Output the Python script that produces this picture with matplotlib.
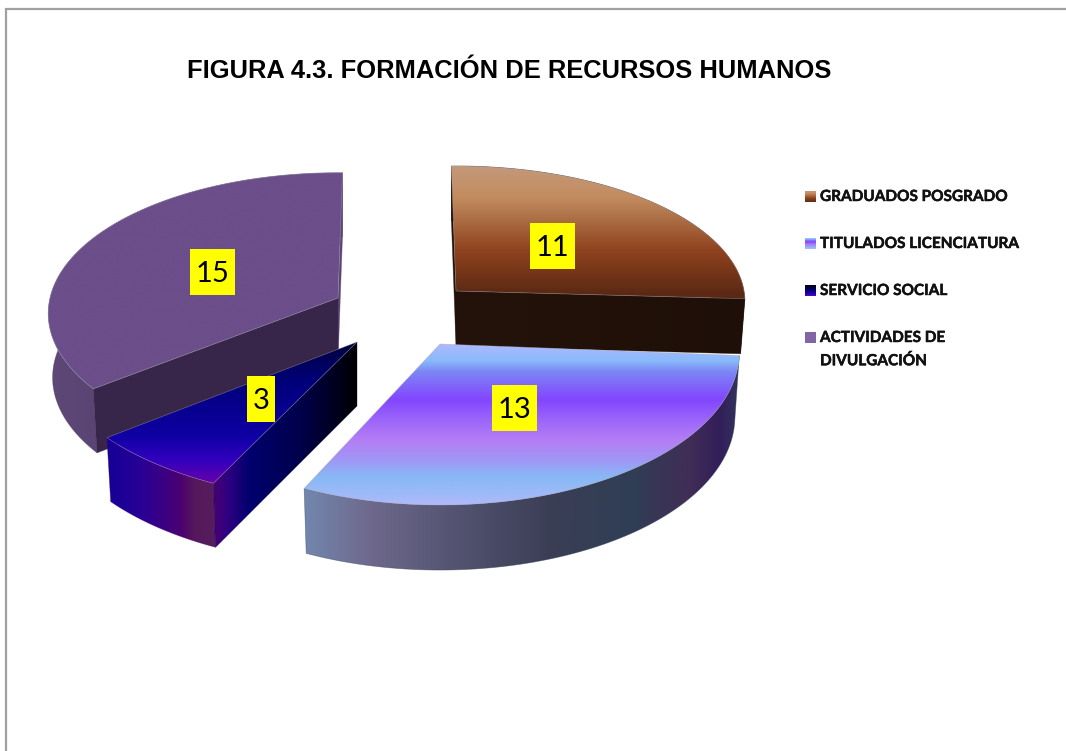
import numpy as np
import matplotlib
matplotlib.use("Agg")
import matplotlib.pyplot as plt
import matplotlib.patheffects as pe
from matplotlib.patches import Polygon, Rectangle

# ---- data ----
categories = ["GRADUADOS POSGRADO", "TITULADOS LICENCIATURA", "SERVICIO SOCIAL", "ACTIVIDADES DE\nDIVULGACIÓN"]
values = [11, 13, 3, 15]
title = "FIGURA 4.3. FORMACIÓN DE RECURSOS HUMANOS"

# ---- layout of the exploded 3-D pie (pixels of the figure) ----
apex_x = [456, 440, 357, 338]
apex_y = [291, 344, 342, 298]
rad_x = [288, 299, 313, 288]
rad_y = [135, 153, 159, 139]
persp = [0.08, 0.05, 0.0, 0.11]
turn = [-1, 0, 1.6, 1]
depth = [55, 65, 64, 64]
shrink = 0.985
label_x = [552.5, 514.5, 261, 212.5]
label_y = [246, 408, 399, 272]
label_w = [45, 45, 28, 45]
label_h = 46
legend_y = [196.5, 243.5, 290.5, 337.5]
legend_line = 23

# ---- colours: (pixel position, rgb) ----
top_stops = [
    [(167, (196, 152, 122)), (197, (195, 140, 95)), (215, (176, 116, 74)), (250, (143, 66, 31)),
     (265, (126, 58, 26)), (295, (90, 40, 20))],
    [(344, (176, 186, 255)), (362, (135, 185, 250)), (372, (125, 135, 245)), (400, (130, 70, 255)),
     (420, (155, 100, 250)), (440, (180, 125, 245)), (460, (160, 150, 245)), (478, (135, 185, 245)),
     (505, (175, 185, 250))],
    [(342, (0, 0, 60)), (380, (0, 0, 120)), (437, (15, 0, 165)), (460, (50, 0, 190)), (484, (105, 0, 170))],
    [(170, (107, 78, 138)), (390, (107, 78, 138))],
]
wall_stops = [
    [(730, (30, 15, 8)), (745, (30, 15, 8))],
    [(303, (115, 135, 175)), (370, (110, 105, 140)), (450, (85, 85, 115)), (550, (58, 62, 85)),
     (630, (48, 62, 85)), (690, (65, 45, 85)), (720, (50, 30, 90)), (737, (50, 50, 90))],
    [(107, (20, 0, 150)), (140, (40, 0, 150)), (165, (60, 0, 130)), (180, (75, 0, 115)),
     (195, (85, 25, 90)), (214, (85, 30, 95))],
    [(48, (93, 72, 120)), (100, (90, 68, 115))],
]
cut_stops = [
    [(455, (36, 19, 10)), (745, (30, 15, 8))],
    [(303, (40, 40, 60)), (440, (40, 40, 60))],
    [(212, (75, 0, 110)), (226, (50, 0, 130)), (250, (0, 0, 110)), (300, (0, 0, 75)),
     (340, (0, 0, 25)), (357, (0, 0, 0))],
    [(95, (56, 38, 74)), (340, (56, 38, 74))],
]
legend_stops = [
    top_stops[0],
    top_stops[1],
    [(0, (0, 0, 10)), (45, (0, 0, 110)), (80, (30, 0, 190)), (100, (110, 0, 170))],
    [(0, (131, 101, 165)), (1, (131, 101, 165))],
]

fig = plt.figure(figsize=(10.66, 7.51), dpi=100)
ax = fig.add_axes([0, 0, 1, 1])
W, H = 1066, 751


def ramp(stops, n=400):
    pos = np.array([s[0] for s in stops], float)
    rgb = np.array([s[1] for s in stops], float) / 255
    t = np.linspace(pos[0], pos[-1], n)
    return np.stack([np.interp(t, pos, rgb[:, i]) for i in range(3)], axis=-1), pos[0], pos[-1]


def fill(poly, stops, vertical, z):
    cols, lo, hi = ramp(stops)
    patch = Polygon(poly, closed=True, transform=ax.transData, fc="none", ec="none")
    ax.add_patch(patch)
    if vertical:
        img = cols[:, None, :]
        extent = (poly[:, 0].min() - 2, poly[:, 0].max() + 2, hi, lo)
    else:
        img = cols[None, :, :]
        extent = (lo, hi, poly[:, 1].max() + 2, poly[:, 1].min() - 2)
    im = ax.imshow(img, extent=extent, aspect="auto", interpolation="bilinear", zorder=z)
    im.set_clip_path(patch)


def pane(poly, stops, vertical, z, edge=None):
    # extend the ramp so the whole polygon is covered
    st = list(stops)
    ext = poly[:, 1] if vertical else poly[:, 0]
    st = [(min(ext.min(), st[0][0]) - 3, st[0][1])] + st + [(max(ext.max(), st[-1][0]) + 3, st[-1][1])]
    fill(poly, st, vertical, z)
    ec = edge if edge is not None else np.array(st[len(st) // 2][1]) / 255
    ax.add_patch(Polygon(poly, closed=True, fc="none", ec=ec, lw=0.5, alpha=0.5, zorder=z))


def rim(a, i):
    th = np.radians(a + turn[i])
    v = -np.cos(th)
    d = 1 - persp[i] * v
    return np.column_stack([apex_x[i] + rad_x[i] * np.sin(th) / d, apex_y[i] + rad_y[i] * v / d])


def lower(pts, i):
    # the underside: same rim, dropped by the depth, slightly narrower in x
    out = np.array(pts, float)
    out[:, 0] = apex_x[i] + shrink * (out[:, 0] - apex_x[i])
    out[:, 1] = out[:, 1] + depth[i]
    return out


edges = np.cumsum([0] + values) / sum(values) * 360
order = [0, 3, 2, 1]
for k, i in enumerate(order):
    z = 2 + k * 4
    arc = rim(np.linspace(edges[i], edges[i + 1], 160), i)
    apex = np.array([[apex_x[i], apex_y[i]]], float)
    apex_low = lower(apex, i)
    # outer wall
    pane(np.vstack([arc, lower(arc, i)[::-1]]), wall_stops[i], False, z)
    # cut faces: slice 0 shows its clockwise edge, the others their start edge
    show = arc[-1:] if i == 0 else arc[:1]
    hidden = arc[:1] if i == 0 else arc[-1:]
    if i != 1:
        face = np.vstack([apex, show, lower(show, i), apex_low])
        pane(face, cut_stops[i], False, z + 1)
    if i in (0, 3):
        back = np.vstack([apex, hidden, lower(hidden, i), apex_low])
        pane(back, cut_stops[i] if i == 0 else wall_stops[i], False, z)
    # top surface
    pane(np.vstack([apex, arc]), top_stops[i], True, z + 2, edge="#a8a8b0")

# value labels
for i, val in enumerate(values):
    ax.add_patch(Rectangle((label_x[i] - label_w[i] / 2, label_y[i] - label_h / 2), label_w[i], label_h,
                           fc="#ffff00", ec="none", zorder=30))
    ax.text(label_x[i], label_y[i] + 2, str(val), ha="center", va="center", family="Lato",
            fontsize=21, color="black", zorder=31)

# title
ax.text(509.5, 71.5, title, ha="center", va="center", family="Liberation Sans", weight="bold",
        fontsize=18.35, color="black", zorder=31)

# legend
halo = [pe.withStroke(linewidth=0.35, foreground="#111111")]
for i, name in enumerate(categories):
    st = legend_stops[i]
    y0 = legend_y[i] - 5.5
    lo, hi = st[0][0], st[-1][0]
    norm = [(y0 + (p - lo) / (hi - lo) * 11, c) for p, c in st]
    square = np.array([[805, y0], [816, y0], [816, y0 + 11], [805, y0 + 11]], float)
    fill(square, norm, True, 20)
    for n, line in enumerate(name.split("\n")):
        ax.text(820, legend_y[i] + 0.5 + n * legend_line, line, ha="left", va="center", family="Lato",
                weight="bold", fontsize=11.05, color="#111111", zorder=31, path_effects=halo)

# outer frame (clipped by the crop of the page)
ax.plot([6, 6, W], [H, 9, 9], color="#a0a0a0", lw=1.6, zorder=1, solid_joinstyle="miter")

ax.set_xlim(0, W)
ax.set_ylim(H, 0)
ax.axis("off")
fig.savefig("out.png", dpi=100, facecolor="white")
